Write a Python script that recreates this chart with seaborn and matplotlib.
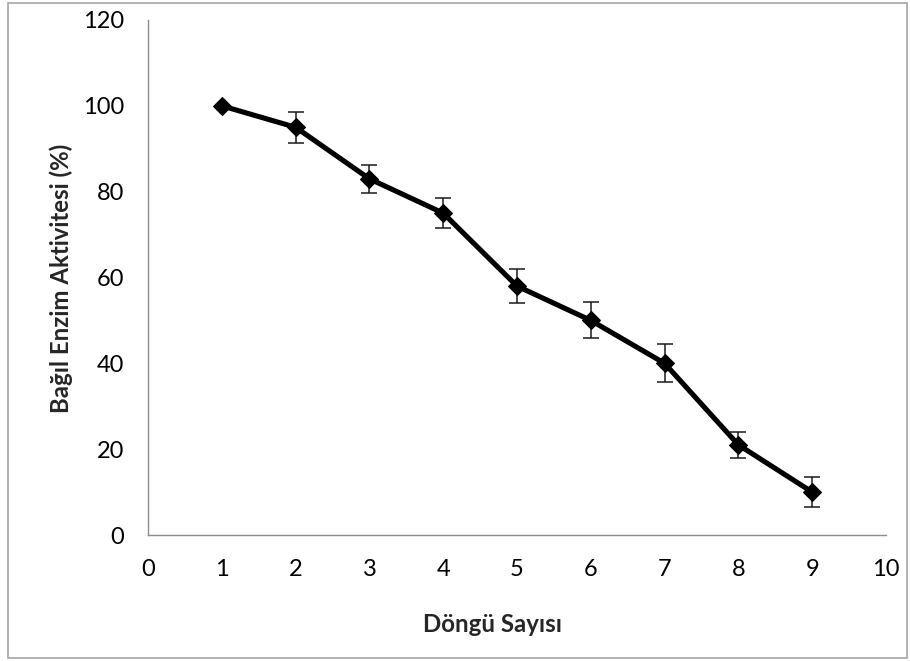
import matplotlib
matplotlib.use("Agg")
import matplotlib.pyplot as plt
from matplotlib.patches import Rectangle
import seaborn as sns
import pandas as pd

# Reuse cycle number vs. relative enzyme activity
cycles = [1, 2, 3, 4, 5, 6, 7, 8, 9]
activity = [100, 95, 83, 75, 58, 50, 40, 21, 10]
errors = [0, 3.6, 3.2, 3.5, 4.0, 4.2, 4.4, 3.0, 3.5]
x_ticks = [0, 1, 2, 3, 4, 5, 6, 7, 8, 9, 10]
y_ticks = [0, 20, 40, 60, 80, 100, 120]

df = pd.DataFrame({"cycle": cycles, "activity": activity, "err": errors})

sns.set_theme(style="white")
plt.rcParams["font.family"] = ["Lato", "DejaVu Sans"]

fig = plt.figure(figsize=(9.1, 6.61), dpi=100)
W, H = 910, 661
ax = fig.add_axes([148 / W, (H - 535) / H, (886 - 148) / W, (535 - 20) / H])

# outer chart frame
fig.patches.append(Rectangle((8 / W, 3 / H), (907 - 8) / W, (659 - 4) / H,
                             transform=fig.transFigure, fill=False,
                             edgecolor="#a6a6a6", linewidth=1.2))

ax.errorbar(df["cycle"], df["activity"], yerr=df["err"], fmt="none",
            ecolor="#1a1a1a", elinewidth=1.1, capsize=5.5, capthick=1.1, zorder=2)
sns.lineplot(data=df, x="cycle", y="activity", ax=ax, color="black",
             linewidth=3.7, marker="D", markersize=9.5, markeredgecolor="black",
             zorder=3)

ax.set_xlim(0, 10)
ax.set_ylim(0, 120)
ax.set_xticks(x_ticks)
ax.set_yticks(y_ticks)
ax.set_xticklabels([str(v) for v in x_ticks])
ax.set_yticklabels([str(v) for v in y_ticks])

for side in ("top", "right"):
    ax.spines[side].set_visible(False)
for side in ("left", "bottom"):
    ax.spines[side].set_color("#8c8c8c")
    ax.spines[side].set_linewidth(1.0)

ax.tick_params(axis="both", direction="out", length=6, width=1.0,
               color="#8c8c8c", labelsize=17, labelcolor="black")
ax.tick_params(axis="x", pad=11)
ax.tick_params(axis="y", pad=11)

ax.set_xlabel("")
ax.set_ylabel("")
fig.text(493 / W, 1 - 624 / H, "Döngü Sayısı", fontsize=17.3,
         fontweight="bold", ha="center", va="center")
fig.text(61 / W, 1 - 278 / H, "Bağıl Enzim Aktivitesi (%)", fontsize=17.3,
         fontweight="bold", ha="center", va="center", rotation=90)

fig.savefig("out.png", dpi=100, facecolor="white")
